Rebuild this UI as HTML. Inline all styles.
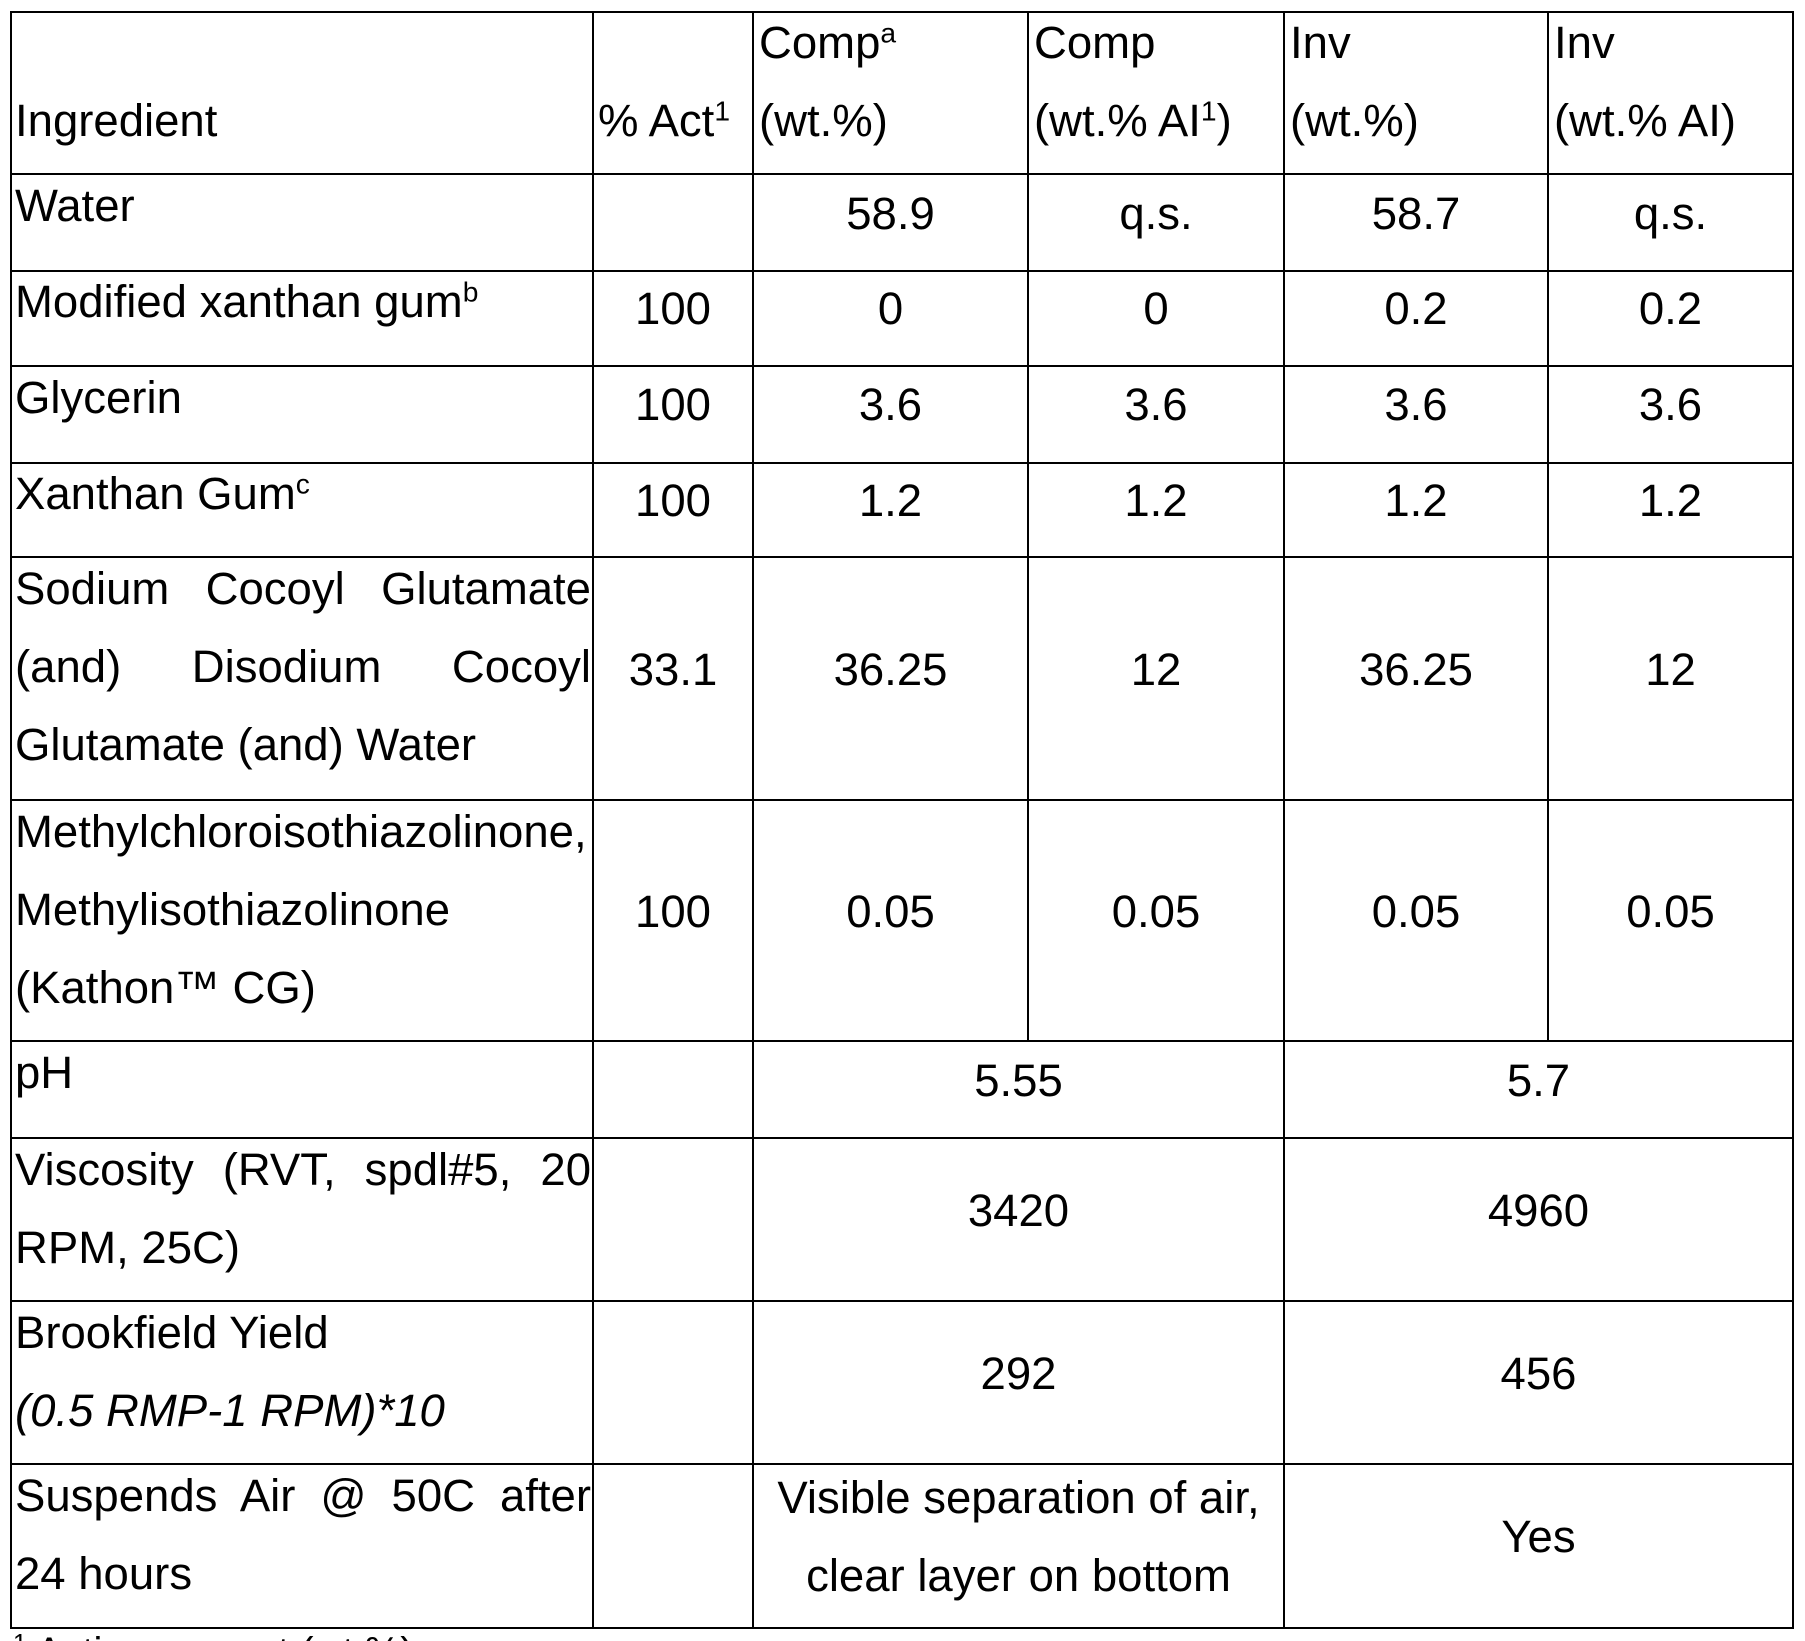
<!DOCTYPE html>
<html>
<head>
<meta charset="utf-8">
<style>
  html, body { margin:0; padding:0; background:#fff; overflow:hidden; width:1805px; height:1641px; }
  #wrap { width:1805px; height:1641px; position:relative; overflow:hidden;
         font-family:"Liberation Sans", Arial, sans-serif; color:#000; background:#fff; }
  .h { position:absolute; left:10px; width:1784px; height:2px; background:#000; }
  .v { position:absolute; top:11px; width:2px; background:#000; }
  .t { position:absolute; font-size:45.5px; line-height:78px; white-space:nowrap; }
  .lb { left:15px; width:576px; }
  .j { text-align:justify; text-align-last:justify; }
  .c { text-align:center; }
  sup { font-size:0.62em; line-height:0; vertical-align:0.55em; }
  .fn { position:absolute; left:13px; top:1632px; font-size:40px; line-height:40px; white-space:nowrap; }
</style>
</head>
<body>
<div id="wrap">
<!-- horizontal lines -->
<div class="h" style="top:11px"></div>
<div class="h" style="top:173px"></div>
<div class="h" style="top:270px"></div>
<div class="h" style="top:365px"></div>
<div class="h" style="top:462px"></div>
<div class="h" style="top:556px"></div>
<div class="h" style="top:799px"></div>
<div class="h" style="top:1040px"></div>
<div class="h" style="top:1137px"></div>
<div class="h" style="top:1300px"></div>
<div class="h" style="top:1463px"></div>
<div class="h" style="top:1627px"></div>
<!-- vertical lines -->
<div class="v" style="left:10px;height:1618px"></div>
<div class="v" style="left:592px;height:1618px"></div>
<div class="v" style="left:752px;height:1618px"></div>
<div class="v" style="left:1027px;height:1031px"></div>
<div class="v" style="left:1283px;height:1618px"></div>
<div class="v" style="left:1547px;height:1031px"></div>
<div class="v" style="left:1792px;height:1618px"></div>

<!-- header -->
<div class="t" style="left:15px;top:4.4px"><br>Ingredient</div>
<div class="t" style="left:598px;top:4.4px"><br>% Act<sup>1</sup></div>
<div class="t" style="left:759px;top:4.4px">Comp<sup>a</sup><br>(wt.%)</div>
<div class="t" style="left:1034px;top:4.4px">Comp<br>(wt.% AI<sup>1</sup>)</div>
<div class="t" style="left:1290px;top:4.4px">Inv<br>(wt.%)</div>
<div class="t" style="left:1554px;top:4.4px">Inv<br>(wt.% AI)</div>

<!-- labels -->
<div class="t lb" style="top:167px">Water</div>
<div class="t lb" style="top:263.4px">Modified xanthan gum<sup>b</sup></div>
<div class="t lb" style="top:358.7px">Glycerin</div>
<div class="t lb" style="top:455.4px">Xanthan Gum<sup>c</sup></div>
<div class="t lb" style="top:550px">
  <div class="j">Sodium Cocoyl Glutamate</div>
  <div class="j">(and) Disodium Cocoyl</div>
  <div>Glutamate (and) Water</div>
</div>
<div class="t lb" style="top:792.7px">Methylchloroisothiazolinone,<br>Methylisothiazolinone<br>(Kathon™ CG)</div>
<div class="t lb" style="top:1033.7px">pH</div>
<div class="t lb" style="top:1131px">
  <div class="j">Viscosity (RVT, spdl#5, 20</div>
  <div>RPM, 25C)</div>
</div>
<div class="t lb" style="top:1293.7px">Brookfield Yield<br><i>(0.5 RMP-1 RPM)*10</i></div>
<div class="t lb" style="top:1456.7px">
  <div class="j">Suspends Air @ 50C after</div>
  <div>24 hours</div>
</div>

<!-- Water -->
<div class="t c" style="left:753px;width:275px;top:174.5px">58.9</div>
<div class="t c" style="left:1028px;width:256px;top:174.5px">q.s.</div>
<div class="t c" style="left:1284px;width:264px;top:174.5px">58.7</div>
<div class="t c" style="left:1548px;width:245px;top:174.5px">q.s.</div>
<!-- Modified -->
<div class="t c" style="left:593px;width:160px;top:270.4px">100</div>
<div class="t c" style="left:753px;width:275px;top:270.4px">0</div>
<div class="t c" style="left:1028px;width:256px;top:270.4px">0</div>
<div class="t c" style="left:1284px;width:264px;top:270.4px">0.2</div>
<div class="t c" style="left:1548px;width:245px;top:270.4px">0.2</div>
<!-- Glycerin -->
<div class="t c" style="left:593px;width:160px;top:366.4px">100</div>
<div class="t c" style="left:753px;width:275px;top:366.4px">3.6</div>
<div class="t c" style="left:1028px;width:256px;top:366.4px">3.6</div>
<div class="t c" style="left:1284px;width:264px;top:366.4px">3.6</div>
<div class="t c" style="left:1548px;width:245px;top:366.4px">3.6</div>
<!-- Xanthan -->
<div class="t c" style="left:593px;width:160px;top:462px">100</div>
<div class="t c" style="left:753px;width:275px;top:462px">1.2</div>
<div class="t c" style="left:1028px;width:256px;top:462px">1.2</div>
<div class="t c" style="left:1284px;width:264px;top:462px">1.2</div>
<div class="t c" style="left:1548px;width:245px;top:462px">1.2</div>
<!-- Sodium -->
<div class="t c" style="left:593px;width:160px;top:630.7px">33.1</div>
<div class="t c" style="left:753px;width:275px;top:630.7px">36.25</div>
<div class="t c" style="left:1028px;width:256px;top:630.7px">12</div>
<div class="t c" style="left:1284px;width:264px;top:630.7px">36.25</div>
<div class="t c" style="left:1548px;width:245px;top:630.7px">12</div>
<!-- Methyl -->
<div class="t c" style="left:593px;width:160px;top:872.5px">100</div>
<div class="t c" style="left:753px;width:275px;top:872.5px">0.05</div>
<div class="t c" style="left:1028px;width:256px;top:872.5px">0.05</div>
<div class="t c" style="left:1284px;width:264px;top:872.5px">0.05</div>
<div class="t c" style="left:1548px;width:245px;top:872.5px">0.05</div>
<!-- pH -->
<div class="t c" style="left:753px;width:531px;top:1041.7px">5.55</div>
<div class="t c" style="left:1284px;width:509px;top:1041.7px">5.7</div>
<!-- Viscosity -->
<div class="t c" style="left:753px;width:531px;top:1171.7px">3420</div>
<div class="t c" style="left:1284px;width:509px;top:1171.7px">4960</div>
<!-- Brookfield -->
<div class="t c" style="left:753px;width:531px;top:1334.5px">292</div>
<div class="t c" style="left:1284px;width:509px;top:1334.5px">456</div>
<!-- Suspends -->
<div class="t c" style="left:753px;width:531px;top:1458.9px">Visible separation of air,<br>clear layer on bottom</div>
<div class="t c" style="left:1284px;width:509px;top:1497.9px">Yes</div>

<!-- footnote (clipped at bottom edge as in reference) -->
<div class="fn"><sup>1</sup> Active amount (wt.%)</div>
</div>
</body>
</html>
